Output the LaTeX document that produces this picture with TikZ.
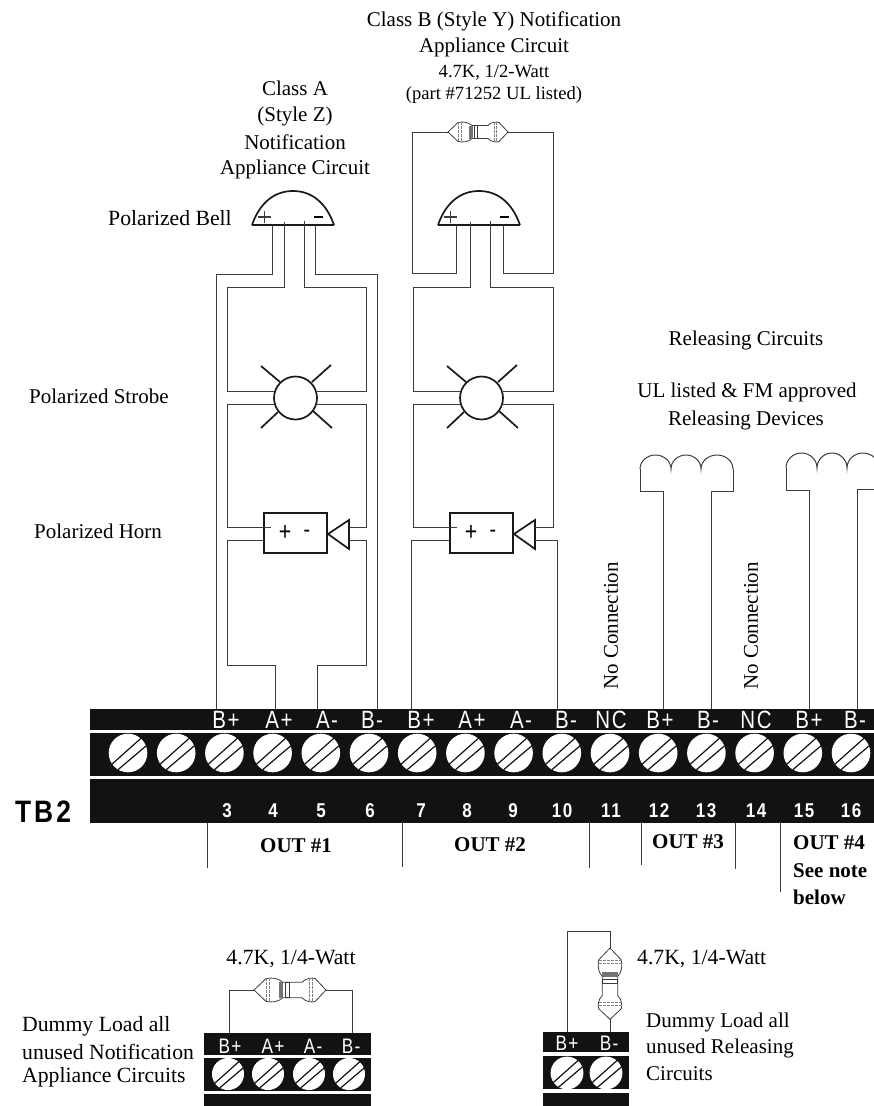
\documentclass[tikz,border=0pt]{standalone}
\usepackage{fontspec}
\setmainfont{Liberation Serif}
\setsansfont{Liberation Sans}
\newfontfamily\termfont[FakeStretch=0.82,LetterSpace=6]{Liberation Sans}
\newfontfamily\numfont[FakeStretch=0.85,LetterSpace=8]{Liberation Sans}
\usetikzlibrary{calc}

\definecolor{wirecol}{HTML}{3C3C3C}
\definecolor{stripcol}{HTML}{101214}

\tikzset{
    wire/.style={draw=wirecol, line width=0.8pt},
    symb/.style={draw=black!90, line width=1.7pt},
    caption/.style={font=\fontsize{21}{21}\selectfont, inner sep=0pt},
    dumcaption/.style={font=\fontsize{21.7}{21.7}\selectfont, inner sep=0pt},
    small/.style={font=\fontsize{18.6}{18.6}\selectfont, inner sep=0pt},
    outlabel/.style={font=\fontsize{21}{21}\selectfont\bfseries, inner sep=0pt, anchor=west},
    termlabel/.style={font=\termfont\fontsize{25}{25}\selectfont, text=white, inner sep=0pt},
    dumlabel/.style={font=\termfont\fontsize{21}{21}\selectfont, text=white, inner sep=0pt},
    termnum/.style={font=\numfont\bfseries\fontsize{20}{20}\selectfont, text=white, inner sep=0pt},
    resistor/.pic={
        \draw[wire, fill=white] (0,0) -- (10,-9.5) .. controls (15,-10.5) and (20,-10) .. (24,-6.5) -- (40,-6.5)
            .. controls (43,-10) and (49,-10.5) .. (51,-9.5) -- (60,0) -- (51,9.5)
            .. controls (49,10.5) and (43,10) .. (40,6.5) -- (24,6.5)
            .. controls (20,10) and (15,10.5) .. (10,9.5) -- cycle;
        \fill[black!55] (20.5,-6.5) rectangle (24.5,6.5);
        \draw[wire] (26,-6.5) rectangle (29.5,6.5);
        \draw[wire, black!50, dash pattern=on 3pt off 1pt] (10.5,-10) -- (10.5,10) (13,-10) -- (13,10);
        \draw[wire, black!50, dash pattern=on 3pt off 1pt] (46,-10) -- (46,10) (48.5,-10) -- (48.5,10);
    },
    screw/.pic={
        \fill[white] (0,0) circle (19.3);
        \draw[stripcol, line width=1.2pt] (-16.7,11.7) -- (13.3,-15) (-10,16.7) -- (18.3,-7.3);
    }
}

\begin{document}
\begin{tikzpicture}[x=1pt, y=-1pt]
    \clip (0,0) rectangle (874,1106);

    % terminal strip
    \fill[stripcol] (90,709) rectangle (874,730);
    \fill[stripcol] (90,733) rectangle (874,776);
    \fill[stripcol] (90,779) rectangle (874,823);
    \foreach \n in {0,...,15}{
        \pic at ({128+48.2*\n},753) {screw};
    };
    \foreach \x/\t in {226/B+,279/A+,327/A-,372/B-,421/B+,472/A+,521/A-,566/B-,611/NC,660/B+,708/B-,756/NC,809/B+,855/B-}{
        \node[termlabel] (lab\x) at (\x,720) {\t};
    };
    \foreach \x/\t in {227/3,273/4,321/5,370/6,421/7,467/8,513/9,562/10,611/11,659/12,706/13,756/14,804/15,851/16}{
        \node[termnum] (num\t) at (\x,811) {\t};
    };
    \node[font=\numfont\bfseries\addfontfeature{LetterSpace=10}\fontsize{31}{31}\selectfont, inner sep=0pt] (tbtwo) at (43,812) {TB2};

    % brackets under the strip
    \foreach \x/\y in {207/868,402/867,589/868,641/865,735/869,780/892}{
        \draw[wire] (\x,823) -- (\x,\y);
    };
    \node[outlabel] (outA) at (260,846) {OUT \#1};
    \node[outlabel] (outB) at (454,845) {OUT \#2};
    \node[outlabel] (outC) at (652,842) {OUT \#3};
    \node[outlabel] (outD) at (793,843) {OUT \#4};
    \node[outlabel] (outE) at (793,871) {See note};
    \node[outlabel] (outF) at (793,897) {below};

    % bell, strobe and horn, twice
    \foreach \c/\o/\l/\r in {A/0/227/366,B/186/413/553}{
        \coordinate (C) at (\o,0);
        \draw[symb, line width=2.5pt] ($(C)+(252,225)$) -- ($(C)+(334,225)$);
        \draw[symb] ($(C)+(252,225)$) .. controls ($(C)+(260,202)$) and ($(C)+(275,191)$) .. ($(C)+(293,191)$)
            .. controls ($(C)+(311,191)$) and ($(C)+(326,202)$) .. ($(C)+(334,225)$);
        \draw[wire, line width=1.1pt] ($(C)+(258,217)$) -- ($(C)+(271,217)$) ($(C)+(264.5,211)$) -- ($(C)+(264.5,223)$);
        \draw[black, line width=2.2pt] ($(C)+(314,217)$) -- ($(C)+(323,217)$);

        \node[symb, circle, minimum size=43pt, inner sep=0pt] (strobe\c) at ($(C)+(295.5,398)$) {};
        \draw[symb] ($(C)+(261,366)$) -- ($(C)+(280,382)$);
        \draw[symb] ($(C)+(331,365)$) -- ($(C)+(312,382)$);
        \draw[symb] ($(C)+(261,428)$) -- ($(C)+(278,412)$);
        \draw[symb] ($(C)+(332,428)$) -- ($(C)+(313,411)$);

        \node[symb, rectangle, line width=2pt, minimum width=63pt, minimum height=40pt, inner sep=0pt] (horn\c) at ($(C)+(295.5,533)$) {};
        \node[inner sep=0pt, font=\termfont\fontsize{26}{26}\selectfont] (plus\c) at ($(C)+(285,533)$) {+};
        \node[inner sep=0pt, font=\termfont\fontsize{24}{24}\selectfont] (minus\c) at ($(C)+(307,534)$) {-};
        \draw[symb] ($(C)+(328,534)$) -- ($(C)+(349,520)$) -- ($(C)+(349,549)$) -- cycle;

        % inner wires
        \draw[wire] ($(C)+(284,222)$) |- ($(C)+(\l-\o,287)$) -- ($(C)+(\l-\o,391)$) -- ($(C)+(274,391)$);
        \draw[wire] ($(C)+(304,221)$) |- ($(C)+(\r-\o,287)$) -- ($(C)+(\r-\o,391)$) -- ($(C)+(316,391)$);
        \draw[wire] ($(C)+(274,404)$) -- ($(C)+(\l-\o,404)$) -- ($(C)+(\l-\o,527)$) -- ($(C)+(271,527)$);
        \draw[wire] ($(C)+(316,404)$) -- ($(C)+(\r-\o,404)$) -- ($(C)+(\r-\o,527)$) -- ($(C)+(349,527)$);
    };

    % class A outer wires
    \draw[wire] (272,225) |- (216,274) -- (216,709);
    \draw[wire] (315,225) |- (377,274) -- (377,709);
    \draw[wire] (hornA.west |- 0,540) -| (227,665) -| (275,709);
    \draw[wire] (349,540) -| (366,665) -| (317,709);

    % class B outer wires
    \pic (resB) at (448,132) {resistor};
    \draw[wire] (456,225) |- (412,273) |- (448,132);
    \draw[wire] (503,225) |- (553,273) |- (508,132);
    \draw[wire] (hornB.west |- 0,540) -| (411,709);
    \draw[wire] (535,540) -| (557,709);

    % releasing coils
    \draw[wire, line width=1pt] (640,469) arc (180:360:15.5 and 14) arc (180:360:15 and 14) arc (180:360:16 and 14);
    \draw[wire] (640,469) |- (663,491) -- (663,709);
    \draw[wire] (733,469) |- (711,491) -- (711,709);
    \draw[wire, line width=1pt] (786,468) arc (180:360:15.5 and 15) arc (180:360:15 and 15) arc (180:360:16 and 15);
    \draw[wire] (786,468) |- (809,490) -- (809,709);
    \draw[wire] (874,489) -- (857,489) -- (857,709);

    % dummy load, notification
    \fill[stripcol] (204,1033) rectangle (371,1055);
    \fill[stripcol] (204,1058) rectangle (371,1091);
    \fill[stripcol] (204,1094) rectangle (371,1106);
    \foreach \x in {228,268,309,349}{
        \pic[scale=0.83] at (\x,1074) {screw};
    };
    \foreach \x/\t in {230/B+,273/A+,313/A-,351/B-}{
        \node[dumlabel] (dum\x) at (\x,1046) {\t};
    };
    \pic[scale=1.2] (resC) at (254,990) {resistor};
    \draw[wire] (229,1033) |- (254,990);
    \draw[wire] (352,1033) |- (326,990);

    % dummy load, releasing
    \fill[stripcol] (543,1032) rectangle (629,1052);
    \fill[stripcol] (543,1056) rectangle (629,1089);
    \fill[stripcol] (543,1093) rectangle (629,1106);
    \foreach \x in {567,606}{
        \pic[scale=0.85] at (\x,1073) {screw};
    };
    \foreach \x/\t in {567/B+,609/B-}{
        \node[dumlabel] (rel\x) at (\x,1043) {\t};
    };
    \pic[scale=1.19, rotate=-90] (resD) at (610,948) {resistor};
    \draw[wire] (567,1032) |- (610,931) -- (610,948);
    \draw[wire] (610,1019) -- (610,1032);

    % texts
    \node[caption] (titleB) at (494,21) {Class B (Style Y) Notification};
    \node[caption] (titleBb) at (494,47) {Appliance Circuit};
    \node[small] (ratingB) at (494,73) {4.7K, 1/2-Watt};
    \node[small] (partB) at (494,95) {(part \#71252 UL listed)};
    \node[caption] (titleA) at (295,88) {Class A};
    \node[caption] (titleAb) at (295,116) {(Style Z)};
    \node[caption] (titleAc) at (295,142) {Notification};
    \node[caption] (titleAd) at (295,169) {Appliance Circuit};
    \node[dumcaption, anchor=west] (bell) at (108,218) {Polarized Bell};
    \node[caption, anchor=west] (strobe) at (29,396) {Polarized Strobe};
    \node[caption, anchor=west] (horn) at (34,531) {Polarized Horn};
    \node[caption] (relA) at (746,340) {Releasing Circuits};
    \node[caption] (relB) at (747,392) {UL listed \& FM approved};
    \node[caption] (relC) at (746,420) {Releasing Devices};
    \node[caption, rotate=90] (noconA) at (611,626) {No Connection};
    \node[caption, rotate=90] (noconB) at (751,626) {No Connection};
    \node[dumcaption] (ratingC) at (291,959) {4.7K, 1/4-Watt};
    \node[dumcaption, anchor=west] (ratingD) at (637,959) {4.7K, 1/4-Watt};
    \node[dumcaption, anchor=west] (dumA) at (22,1026) {Dummy Load all};
    \node[dumcaption, anchor=west] (dumB) at (22,1052) {unused Notification};
    \node[dumcaption, anchor=west] (dumC) at (22,1077) {Appliance Circuits};
    \node[caption, anchor=west] (dumD) at (646,1022) {Dummy Load all};
    \node[caption, anchor=west] (dumE) at (646,1048) {unused Releasing};
    \node[caption, anchor=west] (dumF) at (646,1074) {Circuits};
\end{tikzpicture}
\end{document}
